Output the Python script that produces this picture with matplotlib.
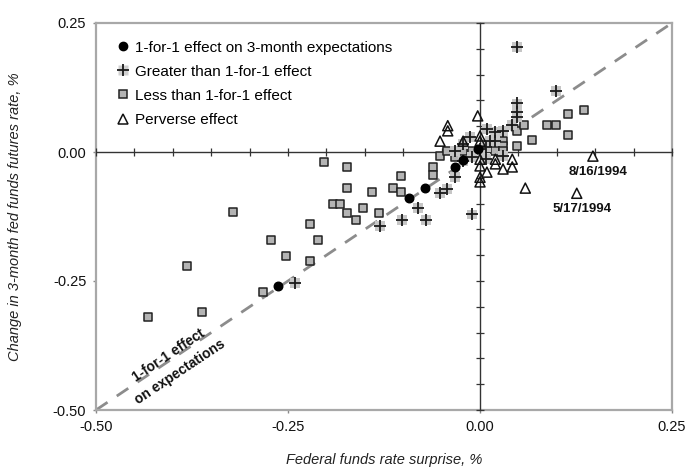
import numpy as np
import matplotlib
matplotlib.use("Agg")
import matplotlib.pyplot as plt
from matplotlib.lines import Line2D

plt.rcParams['font.family'] = ['Liberation Sans', 'DejaVu Sans']

# 1-for-1 effect on 3-month expectations
one_x = [-0.263, -0.092, -0.072, -0.033, -0.022, -0.003]
one_y = [-0.260, -0.090, -0.070, -0.029, -0.016, 0.005]

# Greater than 1-for-1 effect
gr_x = [-0.241, -0.130, -0.102, -0.081, -0.070, -0.052, -0.043, -0.033, -0.010,
        -0.022, -0.033, -0.022, -0.013, 0.000, 0.008, 0.013, 0.009, 0.020, 0.020,
        0.030, 0.042, 0.048, 0.048, 0.048, 0.048, 0.099, 0.008, 0.030, -0.010]
gr_y = [-0.254, -0.143, -0.131, -0.109, -0.131, -0.080, -0.072, -0.049, -0.121,
        -0.018, 0.002, 0.016, 0.029, 0.006, 0.010, 0.021, 0.045, 0.039, 0.021,
        0.041, 0.053, 0.068, 0.078, 0.094, 0.203, 0.119, -0.014, -0.008, -0.010]

# Less than 1-for-1 effect
ls_x = [-0.432, -0.362, -0.381, -0.322, -0.283, -0.272, -0.252, -0.221, -0.221,
        -0.211, -0.203, -0.173, -0.173, -0.192, -0.182, -0.173, -0.162, -0.152,
        -0.141, -0.131, -0.113, -0.103, -0.103, -0.061, -0.061, -0.052, -0.043,
        -0.033, -0.033, -0.022, -0.010, 0.020, 0.030, 0.030, 0.030, 0.048, 0.048,
        0.057, 0.068, 0.087, 0.099, 0.115, 0.115, 0.135]
ls_y = [-0.320, -0.311, -0.220, -0.117, -0.272, -0.170, -0.201, -0.139, -0.211,
        -0.170, -0.020, -0.029, -0.069, -0.100, -0.100, -0.118, -0.131, -0.109,
        -0.078, -0.118, -0.069, -0.047, -0.078, -0.029, -0.045, -0.008, 0.002,
        0.002, -0.010, 0.002, 0.002, 0.002, 0.021, 0.012, 0.002, 0.041, 0.012,
        0.053, 0.023, 0.053, 0.053, 0.033, 0.074, 0.082]

# Perverse effect
pv_x = [-0.003, -0.042, -0.042, -0.052, -0.022, 0.000, 0.000, 0.000, 0.000, 0.000,
        0.000, 0.009, 0.020, 0.020, 0.030, 0.042, 0.042, 0.059, 0.126, 0.147]
pv_y = [0.070, 0.051, 0.041, 0.021, 0.021, 0.031, 0.021, -0.014, -0.027, -0.049,
        -0.058, -0.039, -0.014, -0.023, -0.033, -0.014, -0.029, -0.070, -0.080, -0.008]

# labelled dates
date_labels = ["8/16/1994", "5/17/1994"]
date_x = [0.147, 0.126]
date_y = [-0.008, -0.080]

xlim = (-0.50, 0.25)
ylim = (-0.50, 0.25)
major = [-0.50, -0.25, 0.00, 0.25]

fig = plt.figure(figsize=(6.88, 4.72), dpi=100)
rect = [96/688, 1 - 410/472, 576/688, 387/472]
ax = fig.add_axes(rect)
ax.set_xlim(*xlim)
ax.set_ylim(*ylim)
ax.set_xticks(major)
ax.set_yticks(major)
ax.set_xticklabels([f"{v:.2f}" for v in major])
ax.set_yticklabels([f"{v:.2f}" for v in major])
ax.tick_params(axis='both', direction='out', length=2, width=1, color='#888888',
               labelsize=10.5, labelcolor='#111111', pad=5)
for s in ax.spines.values():
    s.set_color('#a8a8a8')
    s.set_linewidth(1.6)

# 1-for-1 diagonal
ax.plot(xlim, ylim, ls=(0, (5, 4)), color='#8c8c8c', lw=2, zorder=1)
ax.text(-0.398, -0.410, "1-for-1 effect\non expectations", rotation=33.7,
        rotation_mode='anchor', ha='center', va='center', fontsize=10,
        fontweight='bold', color='#111111', linespacing=1.45, zorder=2)

# zero axes with fine ticks (overlay)
ax2 = fig.add_axes(rect)
ax2.set_xlim(*xlim)
ax2.set_ylim(*ylim)
ax2.patch.set_visible(False)
for k in ('top', 'right'):
    ax2.spines[k].set_visible(False)
ax2.spines['left'].set_position(('data', 0))
ax2.spines['bottom'].set_position(('data', 0))
for k in ('left', 'bottom'):
    ax2.spines[k].set_color('#333333')
    ax2.spines[k].set_linewidth(1.0)
fine = np.arange(-0.50, 0.2501, 0.05)
ax2.set_xticks(fine)
ax2.set_yticks(fine)
ax2.set_xticklabels([])
ax2.set_yticklabels([])
ax2.tick_params(axis='both', direction='inout', length=6, width=0.9, color='#333333')

# markers
ax2.scatter(ls_x, ls_y, marker='s', s=38, facecolor='#b4b4b4', edgecolor='#222222',
            linewidth=1.1, zorder=3, clip_on=False)
ax2.scatter(gr_x, gr_y, marker='s', s=50, facecolor='#c6c6c6', edgecolor='none',
            zorder=3.5, clip_on=False)
ax2.scatter(gr_x, gr_y, marker='+', s=64, color='#1a1a1a', linewidth=1.3,
            zorder=4, clip_on=False)
ax2.scatter(pv_x, pv_y, marker='^', s=52, facecolor='none', edgecolor='#111111',
            linewidth=1.1, zorder=4.5, clip_on=False)
ax2.scatter(one_x, one_y, marker='o', s=38, color='#000000', zorder=5)

for lab, x, y in zip(date_labels, date_x, date_y):
    ax2.annotate(lab, (x, y), xytext=(4, -11.5), textcoords='offset points',
                 ha='center', va='center', fontsize=9.5, fontweight='bold',
                 color='#111111')

# legend
h_one = Line2D([], [], ls='none', marker='o', ms=6, color='black')
h_gr_bg = Line2D([], [], ls='none', marker='s', ms=7, markerfacecolor='#d0d0d0',
                 markeredgecolor='none')
h_gr = Line2D([], [], ls='none', marker='+', ms=8, color='#1a1a1a', mew=1.3)
h_ls = Line2D([], [], ls='none', marker='s', ms=6, markerfacecolor='#b4b4b4',
              markeredgecolor='#222222', mew=1.1)
h_pv = Line2D([], [], ls='none', marker='^', ms=7, markerfacecolor='none',
              markeredgecolor='#111111', mew=1.1)
leg = ax2.legend([h_one, (h_gr_bg, h_gr), h_ls, h_pv],
                 ["1-for-1 effect on 3-month expectations",
                  "Greater than 1-for-1 effect",
                  "Less than 1-for-1 effect",
                  "Perverse effect"],
                 loc='upper left', bbox_to_anchor=(0.012, 0.99), frameon=False,
                 fontsize=11, handlelength=0.8, handletextpad=0.4,
                 labelspacing=0.66, borderaxespad=0.5)
leg.set_zorder(10)

ax.set_xlabel("Federal funds rate surprise, %", fontsize=10.5, style='italic',
              color='#222222', labelpad=14)
ax.set_ylabel("Change in 3-month fed funds futures rate, %", fontsize=10.5,
              style='italic', color='#222222', labelpad=22)

fig.savefig("out.png", dpi=100)
